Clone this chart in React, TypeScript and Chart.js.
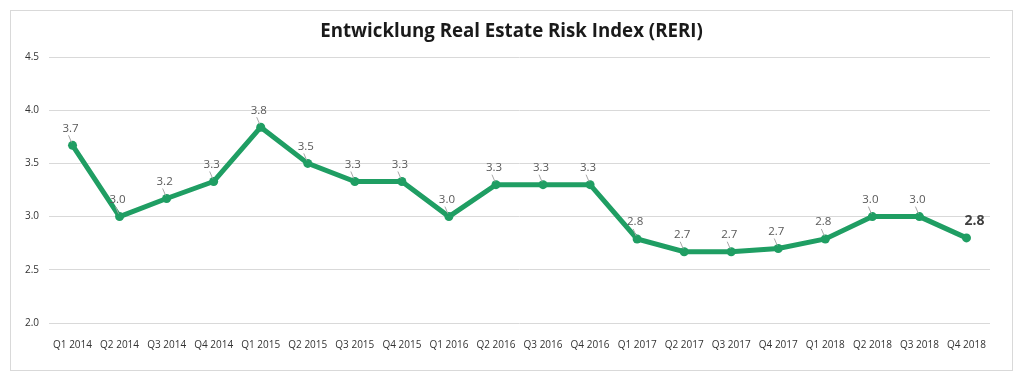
import React, { useEffect, useRef } from "react";
import { Chart, registerables } from "chart.js";

Chart.register(...registerables);

const TITLE = "Entwicklung Real Estate Risk Index (RERI)";
const categories = [
  "Q1 2014", "Q2 2014", "Q3 2014", "Q4 2014",
  "Q1 2015", "Q2 2015", "Q3 2015", "Q4 2015",
  "Q1 2016", "Q2 2016", "Q3 2016", "Q4 2016",
  "Q1 2017", "Q2 2017", "Q3 2017", "Q4 2017",
  "Q1 2018", "Q2 2018", "Q3 2018", "Q4 2018",
];
const reriValues = [
  3.67, 3.0, 3.17, 3.33,
  3.84, 3.5, 3.33, 3.33,
  3.0, 3.3, 3.3, 3.3,
  2.79, 2.67, 2.67, 2.7,
  2.79, 3.0, 3.0, 2.8,
];
const yTicks = [2.0, 2.5, 3.0, 3.5, 4.0, 4.5];

const GREEN = "#1f9e63";
const FONT = "'Open Sans', 'Noto Sans', sans-serif";

const titlePlugin = {
  id: "centerTitle",
  afterDraw(chart: any) {
    const ctx = chart.ctx;
    ctx.save();
    ctx.font = `bold 18.7px ${FONT}`;
    ctx.fillStyle = "#1a1a1a";
    ctx.textAlign = "center";
    ctx.textBaseline = "middle";
    ctx.fillText(TITLE, chart.width / 2, 20.5);
    ctx.restore();
  },
};

const labelPlugin = {
  id: "pointLabels",
  afterDatasetsDraw(chart: any) {
    const ctx = chart.ctx;
    const meta = chart.getDatasetMeta(0);
    const data = chart.data.datasets[0].data as number[];
    ctx.save();
    meta.data.forEach((pt: any, i: number) => {
      const v = data[i];
      const last = i === data.length - 1;
      if (last) {
        ctx.font = `bold 14px ${FONT}`;
        ctx.fillStyle = "#404040";
        ctx.textAlign = "center";
        ctx.textBaseline = "middle";
        ctx.fillText(v.toFixed(1), pt.x + 8, pt.y - 17);
        return;
      }
      ctx.strokeStyle = "#a6a6a6";
      ctx.lineWidth = 1;
      ctx.beginPath();
      ctx.moveTo(pt.x - 1, pt.y - 3);
      ctx.lineTo(pt.x - 4, pt.y - 10);
      ctx.stroke();
      ctx.font = `11.5px ${FONT}`;
      ctx.fillStyle = "#595959";
      ctx.textAlign = "center";
      ctx.textBaseline = "middle";
      ctx.fillText(v.toFixed(1), pt.x - 2, pt.y - 17);
    });
    ctx.restore();
  },
};

export default function App() {
  const ref = useRef<HTMLCanvasElement | null>(null);
  useEffect(() => {
    if (!ref.current) return;
    const chart = new Chart(ref.current, {
      type: "line",
      data: {
        labels: categories,
        datasets: [
          {
            data: reriValues,
            borderColor: GREEN,
            backgroundColor: GREEN,
            borderWidth: 5,
            pointRadius: 4.5,
            pointBackgroundColor: GREEN,
            pointBorderWidth: 0,
            tension: 0,
          },
        ],
      },
      options: {
        animation: false,
        responsive: false,
        maintainAspectRatio: false,
        layout: { padding: { left: 0, right: 22, top: 46, bottom: 11 } },
        plugins: {
          legend: { display: false },
          tooltip: { enabled: false },
          title: { display: false },
        },
        scales: {
          x: {
            offset: true,
            grid: { display: false },
            border: { display: false },
            ticks: {
              color: "#333333",
              font: { family: FONT, size: 10 },
              maxRotation: 0,
              autoSkip: false,
              padding: 8,
            },
          },
          y: {
            min: 2.0,
            max: 4.5,
            afterBuildTicks(scale: any) {
              scale.ticks = yTicks.map((v) => ({ value: v }));
            },
            afterFit(scale: any) {
              scale.width = 38;
            },
            grid: { color: "#d9d9d9", drawTicks: false, lineWidth: 1 },
            border: { display: false },
            ticks: {
              color: "#333333",
              font: { family: FONT, size: 10 },
              padding: 10,
              callback: (v: any) => Number(v).toFixed(1),
            },
          },
        },
      },
      plugins: [labelPlugin, titlePlugin],
    });
    return () => chart.destroy();
  }, []);
  return (
    <div
      style={{
        margin: "2px 0 0 2px",
        width: 1003,
        height: 361,
        border: "1px solid #d9d9d9",
        boxSizing: "border-box",
        background: "#fff",
      }}
    >
      <canvas ref={ref} width={1001} height={359} style={{ display: "block" }} />
    </div>
  );
}
